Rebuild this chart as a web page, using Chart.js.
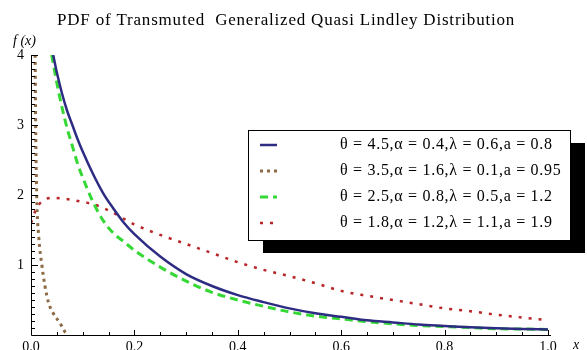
<!doctype html>
<html lang="en">
<head>
  <meta charset="UTF-8" />
  <title>PDF of Transmuted Generalized Quasi Lindley Distribution</title>
  <script src="https://cdn.jsdelivr.net/npm/chart.js@4.4.4/dist/chart.umd.min.js"></script>
  <style>
    html, body { margin: 0; padding: 0; background: #fff; }
    #wrap { position: relative; width: 587px; height: 350px; }
  </style>
</head>
<body>
  <div id="wrap"><canvas id="pdfChart" width="587" height="350"></canvas></div>

  <script>
    const titleText = 'PDF of Transmuted  Generalized Quasi Lindley Distribution';
    const xTicks = [0, 0.2, 0.4, 0.6, 0.8, 1.0];
    const xTickLabels = ['0.0', '0.2', '0.4', '0.6', '0.8', '1.0'];
    const yTicks = [1, 2, 3, 4];
    const yTickLabels = ['1', '2', '3', '4'];

    const seriesLabels = [
      'θ = 4.5,α = 0.4,λ = 0.6,a = 0.8',
      'θ = 3.5,α = 1.6,λ = 0.1,a = 0.95',
      'θ = 2.5,α = 0.8,λ = 0.5,a = 1.2',
      'θ = 1.8,α = 1.2,λ = 1.1,a = 1.9'
    ];

    // values
    const blueX = [0.043, 0.05, 0.06, 0.07, 0.08, 0.09, 0.1, 0.12, 0.14, 0.16, 0.18, 0.2, 0.25, 0.3, 0.35, 0.4, 0.45, 0.5, 0.55, 0.6, 0.65, 0.7, 0.75, 0.8, 0.85, 0.9, 0.95, 1.0];
    const blueY = [4.0, 3.75, 3.45, 3.2, 3.0, 2.8, 2.62, 2.3, 2.02, 1.8, 1.6, 1.44, 1.12, 0.87, 0.7, 0.57, 0.47, 0.38, 0.31, 0.26, 0.21, 0.18, 0.15, 0.13, 0.11, 0.095, 0.085, 0.08];

    const brownX = [0.006, 0.008, 0.009, 0.011, 0.015, 0.021, 0.027, 0.034, 0.043, 0.056, 0.066, 0.07];
    const brownY = [5.0, 4.0, 3.0, 2.0, 1.4, 1.0, 0.7, 0.46, 0.31, 0.17, 0.04, 0.0];

    const greenX = [0.04, 0.05, 0.06, 0.07, 0.08, 0.09, 0.1, 0.12, 0.14, 0.16, 0.18, 0.2, 0.25, 0.3, 0.35, 0.4, 0.45, 0.5, 0.55, 0.6, 0.65, 0.7, 0.75, 0.8, 0.85, 0.9, 0.95, 1.0];
    const greenY = [4.0, 3.6, 3.25, 2.95, 2.7, 2.45, 2.25, 1.9, 1.63, 1.45, 1.33, 1.21, 0.97, 0.77, 0.61, 0.5, 0.41, 0.33, 0.27, 0.23, 0.19, 0.16, 0.135, 0.12, 0.105, 0.09, 0.085, 0.08];

    const redX = [0, 0.01, 0.02, 0.04, 0.06, 0.08, 0.1, 0.12, 0.15, 0.2, 0.25, 0.3, 0.35, 0.4, 0.45, 0.5, 0.55, 0.6, 0.65, 0.7, 0.75, 0.8, 0.85, 0.9, 0.95, 1.0];
    const redY = [1.6, 1.8, 1.9, 1.96, 1.95, 1.93, 1.9, 1.87, 1.78, 1.58, 1.43, 1.3, 1.17, 1.04, 0.93, 0.84, 0.74, 0.63, 0.56, 0.5, 0.44, 0.38, 0.34, 0.29, 0.25, 0.21];

    function pts(xs, ys) {
      return xs.map((x, i) => ({ x, y: ys[i] }));
    }

    const serif = '"Liberation Serif", "DejaVu Serif", serif';

    // Mathematica-like axes, ticks, labels and framed legend
    const mathAxes = {
      id: 'mathAxes',
      afterDatasetsDraw(chart) {
        const { ctx, scales: { x, y } } = chart;
        const x0 = x.getPixelForValue(0);
        const y0 = y.getPixelForValue(0);
        ctx.save();
        ctx.strokeStyle = '#000';
        ctx.fillStyle = '#000';
        ctx.lineWidth = 1;

        ctx.beginPath();
        ctx.moveTo(x0 + 0.5, y.getPixelForValue(4));
        ctx.lineTo(x0 + 0.5, y0 + 0.5);
        ctx.lineTo(x.getPixelForValue(1) + 3, y0 + 0.5);
        ctx.stroke();

        // x ticks
        for (let i = 0; i <= 20; i++) {
          const px = Math.round(x.getPixelForValue(i * 0.05)) + 0.5;
          const len = i % 4 === 0 ? 5 : 3;
          ctx.beginPath();
          ctx.moveTo(px, y0);
          ctx.lineTo(px, y0 - len);
          ctx.stroke();
        }
        // y ticks
        for (let i = 1; i <= 40; i++) {
          const py = Math.round(y.getPixelForValue(i * 0.1)) + 0.5;
          const len = i % 10 === 0 ? 7 : 4;
          ctx.beginPath();
          ctx.moveTo(x0, py);
          ctx.lineTo(x0 + len, py);
          ctx.stroke();
        }

        ctx.font = '14px ' + serif;
        ctx.textAlign = 'center';
        ctx.textBaseline = 'middle';
        xTicks.forEach((v, i) => ctx.fillText(xTickLabels[i], x.getPixelForValue(v), y0 + 12));
        ctx.textAlign = 'right';
        yTicks.forEach((v, i) => ctx.fillText(yTickLabels[i], x0 - 7, y.getPixelForValue(v)));

        ctx.font = 'italic 14px ' + serif;
        ctx.textAlign = 'left';
        ctx.fillText('f (x)', 13, 41);
        ctx.fillText('x', 573, y0 + 10);

        ctx.font = '17px ' + serif;
        ctx.letterSpacing = '0.8px';
        ctx.fillText(titleText, 57, 21);

        // legend
        const bx = 248, by = 130, bw = 322, bh = 110;
        ctx.fillStyle = '#000';
        ctx.fillRect(bx + 15, by + 13, bw, bh);
        ctx.fillStyle = '#fff';
        ctx.fillRect(bx, by, bw, bh);
        ctx.strokeRect(bx + 0.5, by + 0.5, bw, bh);

        ctx.font = '16px ' + serif;
        ctx.letterSpacing = '0.7px';
        chart.data.datasets.forEach((ds, i) => {
          const ry = 145 + i * 26;
          ctx.save();
          ctx.strokeStyle = ds.borderColor;
          ctx.lineWidth = ds.borderWidth;
          ctx.setLineDash(ds.borderDash || []);
          ctx.beginPath();
          ctx.moveTo(260, ry);
          ctx.lineTo(277, ry);
          ctx.stroke();
          ctx.restore();
          ctx.fillStyle = '#000';
          ctx.textAlign = 'left';
          ctx.fillText(ds.label, 340, ry);
        });
        ctx.restore();
      }
    };

    new Chart(document.getElementById('pdfChart'), {
      type: 'line',
      data: {
        datasets: [
          { label: seriesLabels[0], data: pts(blueX, blueY), borderColor: '#2d2c82', borderWidth: 2.5 },
          { label: seriesLabels[1], data: pts(brownX, brownY), borderColor: '#8c6a45', borderWidth: 3, borderDash: [3, 4] },
          { label: seriesLabels[2], data: pts(greenX, greenY), borderColor: '#35d835', borderWidth: 3, borderDash: [8, 5] },
          { label: seriesLabels[3], data: pts(redX, redY), borderColor: '#b8262a', borderWidth: 2.5, borderDash: [3, 7] }
        ]
      },
      options: {
        responsive: false,
        animation: false,
        devicePixelRatio: 1,
        layout: { padding: { left: 31, right: 39, top: 55, bottom: 15 } },
        elements: {
          point: { radius: 0 },
          line: { cubicInterpolationMode: 'monotone', fill: false }
        },
        scales: {
          x: { type: 'linear', min: 0, max: 1, display: false },
          y: { type: 'linear', min: 0, max: 4, display: false }
        },
        plugins: {
          legend: { display: false },
          tooltip: { enabled: false }
        }
      },
      plugins: [mathAxes]
    });
  </script>
</body>
</html>
